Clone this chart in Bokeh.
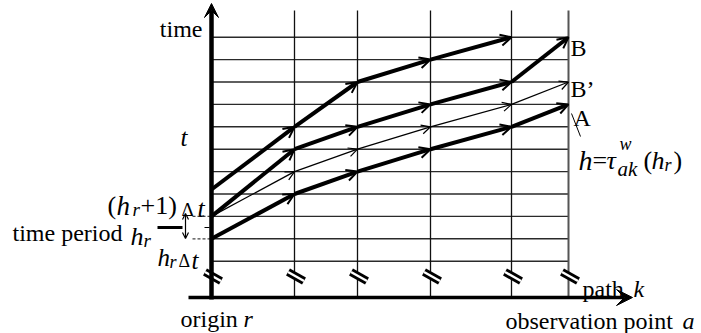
from bokeh.plotting import figure
from bokeh.models import Range1d, Arrow, OpenHead, VeeHead, Label, ColumnDataSource
from bokeh.embed import file_html
from bokeh.resources import INLINE

# ---------------- data ----------------
# positions of observation points along path k (origin r ... observation point a)
obs_pos = [0, 83, 146, 219, 300, 357]
# time periods (horizontal grid lines)
time_periods = list(range(11))
# time period reached at each observation point, per trajectory
path_top = [3.2, 6, 8, 9, 10]        # bold, upper
path_B = [2, 5, 6, 7, 8, 10]         # bold, ends at B
path_Bp = [2, 4, 5, 6, 7, 8]         # thin, ends at B'
path_A = [1, 3, 4, 5, 6, 7]          # bold, ends at A

# ---------------- layout helpers ----------------
W, H = 701, 333
X0, Y0, DY = 211.0, 260.7, 22.4


def dx(px):
    return px - X0


def dy(py):
    return (Y0 - py) / DY


FONT = "Liberation Serif"

p = figure(width=W, height=H,
           x_range=Range1d(dx(0), dx(W)), y_range=Range1d(dy(H), dy(0)),
           output_backend="svg", toolbar_location=None,
           x_axis_location=None, y_axis_location=None,
           min_border=0, outline_line_color=None,
           background_fill_color="white", border_fill_color="white")
p.grid.visible = False

t_axis = dy(297)
t_top = dy(10)
n = len(time_periods)

# horizontal time-period lines
p.segment(x0=[obs_pos[0]] * n, y0=time_periods, x1=[obs_pos[-1]] * n, y1=time_periods,
          line_color="#2a2a2a", line_width=1.4)
# short left extensions for h_r period
p.segment(x0=[dx(192)] * 2, y0=time_periods[1:3], x1=[obs_pos[0]] * 2, y1=time_periods[1:3],
          line_color="#444444", line_width=1.2, line_dash="3 2")

# vertical observation-point lines
inner = obs_pos[1:-1]
p.segment(x0=inner, y0=[t_axis] * len(inner), x1=inner, y1=[t_top] * len(inner),
          line_color="#111111", line_width=1.3)
p.segment(x0=[obs_pos[-1]], y0=[t_axis], x1=[obs_pos[-1]], y1=[t_top],
          line_color="#555555", line_width=2)

# axes
p.add_layout(Arrow(x_start=obs_pos[0], y_start=dy(299), x_end=obs_pos[0], y_end=dy(3),
                   line_width=4.5, line_color="black",
                   end=VeeHead(size=14, fill_color="black", line_color="black", line_width=1)))
p.add_layout(Arrow(x_start=dx(188), y_start=t_axis, x_end=dx(632), y_end=t_axis,
                   line_width=3.5, line_color="black",
                   end=VeeHead(size=16, fill_color="black", line_color="black", line_width=1)))

# break marks on every vertical line
bx0 = [x + 1.5 - 8 for x in obs_pos]
bx1 = [x + 1.5 + 8 for x in obs_pos]
by0 = [dy(276 - 4.5)] * len(obs_pos)
by1 = [dy(276 + 4.5)] * len(obs_pos)
p.segment(x0=bx0, y0=by0, x1=bx1, y1=by1, line_color="black", line_width=8, line_cap="butt")
p.segment(x0=bx0, y0=by0, x1=bx1, y1=by1, line_color="white", line_width=2.4, line_cap="butt")


def add_path(vals, lw, head_size, head_lw):
    xs = obs_pos[:len(vals)]
    src = ColumnDataSource(dict(x0=xs[:-1], y0=vals[:-1], x1=xs[1:], y1=vals[1:]))
    p.add_layout(Arrow(source=src, x_start="x0", y_start="y0", x_end="x1", y_end="y1",
                       line_width=lw, line_color="black",
                       end=OpenHead(size=head_size, line_width=head_lw, line_color="black")))


add_path(path_top, 4, 11, 2)
add_path(path_B, 4, 11, 2)
add_path(path_Bp, 1.3, 9, 1.2)
add_path(path_A, 4, 11, 2)

# h_r marker: dash and double arrow
p.segment(x0=[dx(157)], y0=[dy(227)], x1=[dx(182)], y1=[dy(227)], line_color="black", line_width=3)
p.segment(x0=[dx(204)], y0=[dy(227)], x1=[dx(209)], y1=[dy(227)], line_color="black", line_width=1)
p.add_layout(Arrow(x_start=dx(185), y_start=dy(213), x_end=dx(185), y_end=dy(238),
                   line_width=1.2, line_color="black",
                   start=OpenHead(size=6, line_width=1.2), end=OpenHead(size=6, line_width=1.2)))
# leader line from A
p.segment(x0=[dx(571)], y0=[dy(113)], x1=[dx(580)], y1=[dy(136)], line_color="black", line_width=1)


def lab(text, px, py, size, style="normal", align="left"):
    p.add_layout(Label(x=dx(px), y=dy(py), text=text, text_font=FONT,
                       text_font_size=f"{size}px", text_font_style=style,
                       text_align=align, text_baseline="alphabetic", text_color="black"))


lab("time", 202, 28, 24, align="right")
lab("t", 180, 137, 25, "italic")

# (h_r+1)Δt
lab("(", 107, 205, 26)
lab("h", 116, 205, 27, "italic")
lab("r", 132, 209, 19, "italic")
lab("+1)", 140, 205, 26)
lab("Δ", 181, 209, 19)
lab("t", 197, 208, 26, "italic")

# time period h_r
lab("time period", 12, 232, 24)
lab("h", 130, 236, 26, "italic")
lab("r", 143, 240, 19, "italic")

# h_r Δt
lab("h", 157, 257, 25, "italic")
lab("r", 169, 261, 18, "italic")
lab("Δ", 178, 260, 18)
lab("t", 191, 260, 25, "italic")

# bottom
lab("origin", 180, 318, 24)
lab("r", 243, 318, 24, "italic")
lab("path", 582, 288, 24)
lab("k", 633, 288, 24, "italic")
lab("observation point", 505, 320, 24)
lab("a", 682, 320, 24, "italic")

# right side
lab("B", 570, 47, 24)
lab("B\u2019", 570, 88, 24)
lab("A", 573, 117, 24)

# h = tau^w_ak(h_r)
lab("h", 578, 160, 28, "italic")
lab("=", 592, 160, 26)
lab("\u03c4", 606, 160, 26, "italic")
lab("w", 619, 143, 18, "italic")
lab("ak", 617, 168, 21, "italic")
lab("(", 643, 160, 26)
lab("h", 651, 160, 26, "italic")
lab("r", 664, 164, 18, "italic")
lab(")", 673, 160, 26)

open("out.html", "w").write(file_html(p, INLINE))
